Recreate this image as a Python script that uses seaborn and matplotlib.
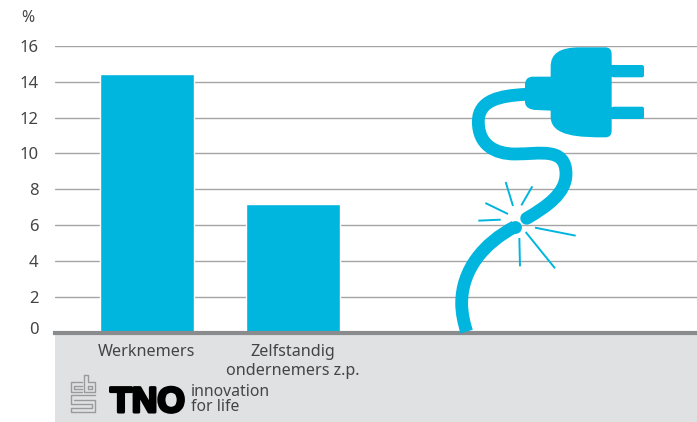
import matplotlib
matplotlib.use('Agg')
import matplotlib.pyplot as plt
import matplotlib.transforms as mtrans
import seaborn as sns
import pandas as pd
from matplotlib.patches import PathPatch, Rectangle, FancyBboxPatch
from matplotlib.path import Path
import matplotlib.patheffects as pe

# Data
categories = ['Werknemers', 'Zelfstandig\nondernemers z.p.']
percentages = [14.45, 7.15]
y_ticks = [0, 2, 4, 6, 8, 10, 12, 14, 16]

BLUE = '#00b5de'
TEXT = '#444444'
FONT = 'Noto Sans'
W, H = 697, 422

sns.set_theme(style='white')
plt.rcParams['font.family'] = FONT
plt.rcParams['font.weight'] = 'light'

fig = plt.figure(figsize=(W / 100, H / 100), dpi=100)
# main axes, placed in pixels: left 55, top 46, bottom 332
ax = fig.add_axes([55 / W, 1 - 332.5 / H, (W - 55) / W, 286.5 / H])

df = pd.DataFrame({'groep': categories, 'pct': percentages})
sns.barplot(data=df, x='groep', y='pct', color=BLUE, saturation=1, width=0.65, ax=ax, zorder=3)

ax.set_xlim(-0.63, 3.767)
ax.set_ylim(0, 16)
ax.set_xlabel('')
ax.set_ylabel('')
ax.set_yticks(y_ticks)
ax.grid(axis='y', color='#a4a4a4', linewidth=1)
ax.set_axisbelow(True)
sns.despine(ax=ax, left=True, right=True, top=True)
ax.spines['bottom'].set_color('#8a8b8d')
ax.spines['bottom'].set_linewidth(3)
ax.spines['bottom'].set_zorder(6)
ax.tick_params(axis='y', length=0, pad=12, labelsize=12, labelcolor=TEXT)
ax.tick_params(axis='x', length=0, pad=8, labelsize=11.6, labelcolor=TEXT)
for lab in ax.get_xticklabels():
    lab.set_linespacing(1.25)
# the 0 label sits a little above its line
zero = ax.get_yticklabels()[0]
zero.set_transform(zero.get_transform() + mtrans.ScaledTranslation(0, 4 / 100, fig.dpi_scale_trans))

# overlay in pixel coords for footer and icon
ov = fig.add_axes([0, 0, 1, 1], zorder=-1)
ov.set_xlim(0, W)
ov.set_ylim(H, 0)
ov.axis('off')
ov.add_patch(Rectangle((55, 333), W - 55, H - 333, color='#e0e1e3', lw=0))
ax.patch.set_alpha(0)

top = fig.add_axes([0, 0, 1, 1], zorder=5)
top.set_xlim(0, W)
top.set_ylim(H, 0)
top.axis('off')


# the icon was measured on a 3x crop starting at (440, 30)
def z(pts):
    return [(440 + x / 3, 30 + y / 3) for x, y in pts]


def curve(pts, cap='round', **kw):
    codes = [Path.MOVETO] + [Path.CURVE4] * (len(pts) - 1)
    top.add_patch(PathPatch(Path(z(pts), codes), fill=False, edgecolor=BLUE, capstyle=cap, **kw))


curve([(258, 193), (180, 197), (115, 210), (115, 275),
       (115, 345), (165, 372), (225, 372),
       (300, 372), (378, 350), (378, 432),
       (378, 490), (320, 530), (260, 565)], lw=9.2)
curve([(225, 590), (130, 640), (65, 720), (65, 820),
       (65, 850), (72, 880), (80, 905)], lw=9.2, cap='butt')
# rounded end of the lower piece at the break
top.plot(*zip(*z([(225, 590)])), 'o', color=BLUE, ms=9.2, mew=0)

body = [(332, 110), (332, 70), (360, 52), (420, 52), (495, 52), (495, 52), (495, 52),
        (510, 52), (515, 60), (515, 75), (515, 300), (515, 300), (515, 300),
        (515, 315), (510, 322), (495, 322), (420, 322), (332, 320), (332, 260), (332, 110)]
body_codes = [Path.MOVETO] + [Path.CURVE4] * 18 + [Path.LINETO]
top.add_patch(PathPatch(Path(z(body), body_codes), facecolor=BLUE, edgecolor='none'))

neck = [(335, 140), (280, 140), (280, 140), (280, 140), (262, 140), (255, 150), (255, 165),
        (255, 215), (255, 215), (255, 215), (255, 232), (270, 240), (290, 240), (335, 242)]
neck_codes = [Path.MOVETO] + [Path.CURVE4] * 12 + [Path.LINETO]
top.add_patch(PathPatch(Path(z(neck), neck_codes), facecolor=BLUE, edgecolor='none'))

for y0 in (65, 106.7):
    top.add_patch(FancyBboxPatch((612, y0), 32, 12.3, boxstyle='round,pad=0,rounding_size=2',
                                 facecolor=BLUE, edgecolor='none'))
    top.add_patch(Rectangle((610, y0), 6, 12.3, facecolor=BLUE, edgecolor='none'))

sparks = [[(197, 456), (219, 528)], [(277, 469), (244, 526)], [(136, 519), (204, 552)],
          [(115, 572), (182, 569)], [(285, 593), (407, 617)], [(257, 606), (345, 715)],
          [(238, 624), (240, 709)]]
for s in sparks:
    xs, ys = zip(*z(s))
    top.plot(xs, ys, color=BLUE, lw=1.4, solid_capstyle='butt')

# % label and footer logos
top.text(28, 17.5, '%', ha='center', va='center', fontsize=11.5, color=TEXT)

GREY = '#9a9a9a'
cbs = [[(82, 382), (70.5, 382), (70.5, 392), (82, 392)],
       [(82, 385.5), (74, 385.5), (74, 388.5), (82, 388.5)],
       [(84, 374.5), (88, 374.5), (88, 382), (95, 382), (95, 392), (84, 392), (84, 374.5)],
       [(88, 385.5), (91.5, 385.5), (91.5, 388.5), (88, 388.5), (88, 385.5)],
       [(95, 395), (70.5, 395), (70.5, 403.5), (91.5, 403.5), (91.5, 408), (70.5, 408),
        (70.5, 411.5), (95, 411.5), (95, 400), (74, 400)]]
for seg in cbs:
    xs, ys = zip(*seg)
    top.plot(xs, ys, color=GREY, lw=1.0)

top.text(147.5, 412, 'TNO', ha='center', va='baseline', fontsize=25.5, color='black',
         family='Liberation Sans', fontweight='bold',
         path_effects=[pe.withStroke(linewidth=2.2, foreground='black')])
top.text(191, 392, 'innovation', ha='left', va='center', fontsize=11.3, color=TEXT)
top.text(191, 407, 'for life', ha='left', va='center', fontsize=11.3, color=TEXT)

fig.savefig('out.png', dpi=100)
